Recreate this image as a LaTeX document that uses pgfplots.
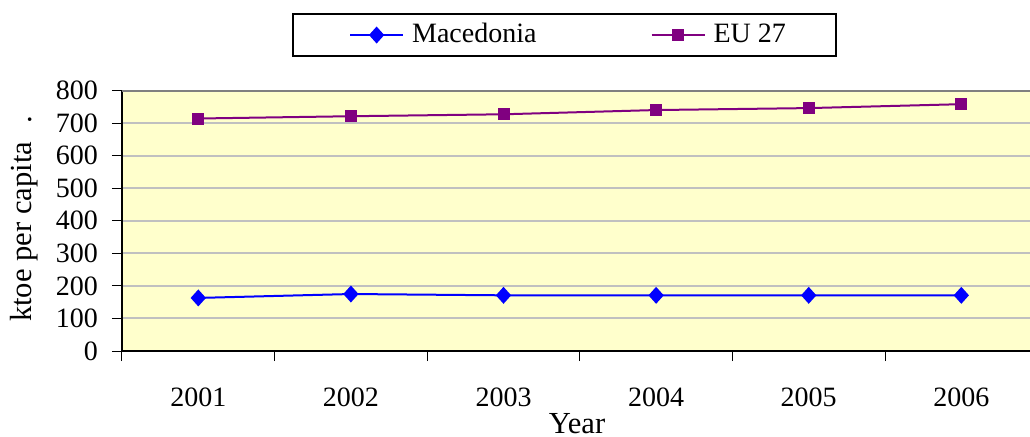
\documentclass[border=0pt]{standalone}
\usepackage{fontspec}
\setmainfont{Liberation Serif}
\usepackage{pgfplots}
\pgfplotsset{compat=1.18}
\definecolor{bgyel}{HTML}{FFFFCC}
\definecolor{gridgray}{HTML}{C0C0C0}
\definecolor{mkd}{HTML}{0000FF}
\definecolor{eu}{HTML}{800080}
\newcommand{\fs}{\fontsize{14}{17}\selectfont}
\newcommand{\fsl}{\fontsize{15.3}{18}\selectfont}
\begin{document}
\begin{tikzpicture}
\path[use as bounding box] (-61pt,-42.5pt) rectangle (454pt,175.5pt);
\begin{axis}[
  at={(0pt,0pt)}, anchor=south west, scale only axis,
  width=454pt, height=130.25pt,
  xmin=0.5, xmax=6.45, ymin=0, ymax=800,
  axis background/.style={fill=bgyel},
  axis x line*=bottom, axis y line*=left,
  axis line style={-, line width=1pt, black},
  xtick={1,...,6}, xticklabels={2001,2002,2003,2004,2005,2006},
  major x tick style={draw=none},
  minor xtick={0.5,1.5,...,6.5},
  minor tick length=5pt, major tick length=5pt,
  tick align=outside,
  ytick={0,100,...,800},
  ymajorgrids, grid style={gridgray, line width=1pt},
  tick style={black, line width=0.5pt},
  tick label style={font=\fs},
  xticklabel style={yshift=-10pt},
  yticklabel style={xshift=-3.5pt},
  /pgf/number format/assume math mode=true,
  legend style={at={(0.4873,1.213)}, anchor=center, draw=black, line width=0.8pt,
    inner xsep=25pt, inner ysep=4pt, font=\fs,
    nodes={inner sep=0pt, text height=10pt, text depth=3pt},
    /tikz/every odd column/.append style={column sep=4pt},
    /tikz/every even column/.append style={column sep=54pt}},
  legend columns=2,
  legend image code/.code={\path (-3pt,0pt); \draw[mark repeat=2, mark phase=2, #1] plot coordinates {(0pt,0pt) (13.25pt,0pt) (26.5pt,0pt)};},
]
\addplot[mkd, line width=1pt, mark=diamond*, mark size=3.5pt, mark options={xscale=1.2, solid, fill=mkd}] coordinates {(1,163) (2,175) (3,171) (4,171) (5,171) (6,171)};
\addlegendentry{Macedonia}
\addplot[eu, line width=1pt, mark=square*, mark size=2.5pt, mark options={solid, fill=eu}] coordinates {(1,714) (2,721) (3,727) (4,740) (5,746) (6,758)};
\addlegendentry{EU 27}
\draw[gray, line width=1pt] (rel axis cs:0,1) -- (rel axis cs:1,1);
\end{axis}
\node[font=\fsl, anchor=base] at (227.5pt,-41pt) {Year};
\node[font=\fsl, rotate=90, anchor=base] at (-45pt,66pt) {ktoe per capita\hspace{9pt}.};
\end{tikzpicture}
\end{document}
